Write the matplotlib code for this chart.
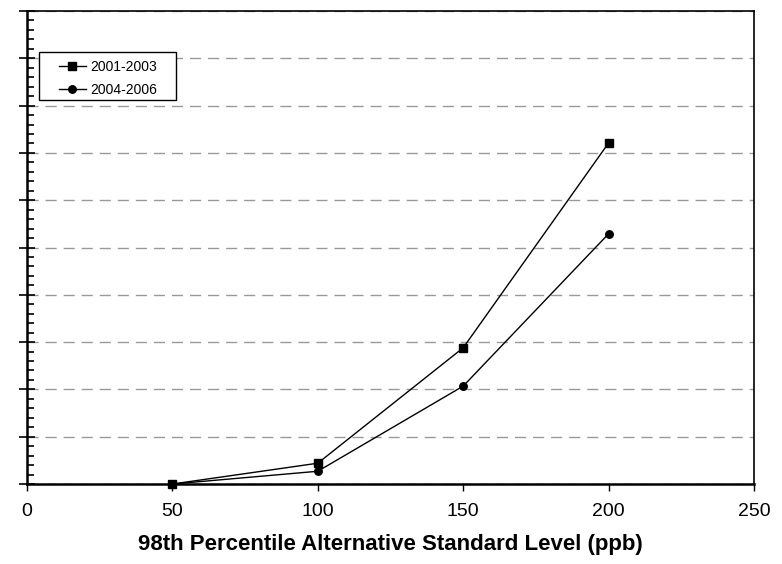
import matplotlib.pyplot as plt
from matplotlib.patches import Rectangle
from matplotlib.ticker import MultipleLocator, NullFormatter

# niveaux standards (ppb) et valeurs par période
niveaux = [50, 100, 150, 200]
serie_2001 = [0.0, 0.44, 2.88, 7.21]
serie_2004 = [0.0, 0.27, 2.07, 5.29]
etiquettes = ['2001-2003', '2004-2006']

plt.rcParams['font.family'] = ['Liberation Sans', 'DejaVu Sans']

fig = plt.figure(figsize=(7.82, 5.64), dpi=100)
ax = fig.add_axes([0.0345, 0.1418, 0.9297, 0.8387])

ax.plot(niveaux, serie_2001, color='black', linewidth=1, marker='s', markersize=5.2,
        label=etiquettes[0], clip_on=False, zorder=3)
ax.plot(niveaux, serie_2004, color='black', linewidth=1, marker='o', markersize=5.4,
        label=etiquettes[1], clip_on=False, zorder=3)

ax.set_xlim(0, 250)
ax.set_ylim(0, 10)
ax.xaxis.set_major_locator(MultipleLocator(50))
ax.yaxis.set_major_locator(MultipleLocator(1))
ax.yaxis.set_minor_locator(MultipleLocator(0.2))
ax.yaxis.set_major_formatter(NullFormatter())

ax.tick_params(axis='x', direction='out', length=5, width=1, labelsize=14, pad=9)
ax.tick_params(axis='y', which='major', direction='inout', length=11, width=1.2)
ax.tick_params(axis='y', which='minor', direction='in', length=5, width=1.2)

ax.grid(True, axis='y', color='#999999', linestyle=(0, (8, 5)), linewidth=1)
for s in ax.spines.values():
    s.set_linewidth(1.2)
ax.spines['left'].set_linewidth(1.8)
ax.spines['bottom'].set_linewidth(1.8)

ax.set_xlabel("98th Percentile Alternative Standard Level (ppb)", fontsize=16,
              fontweight='bold', labelpad=10)

# légende sans cadre, puis cadre plus large dessiné à part
leg = ax.legend(loc='upper left', bbox_to_anchor=(0.0344, 0.911), borderaxespad=0,
                fontsize=10, frameon=False, handlelength=1.95, handletextpad=0.3,
                borderpad=0.5, labelspacing=0.62)

fig.canvas.draw()
bb = leg.get_window_extent()
(x0, y0), (x1, y1) = fig.transFigure.inverted().transform([(bb.x0 - 13, bb.y0 + 4),
                                                             (bb.x1 + 12, bb.y1 + 1)])
cadre = Rectangle((x0, y0), x1 - x0, y1 - y0, transform=fig.transFigure,
                  facecolor='white', edgecolor='black', linewidth=1, zorder=4)
fig.add_artist(cadre)
leg.set_zorder(5)
fig.add_artist(leg)

fig.savefig('out.png', dpi=100)
